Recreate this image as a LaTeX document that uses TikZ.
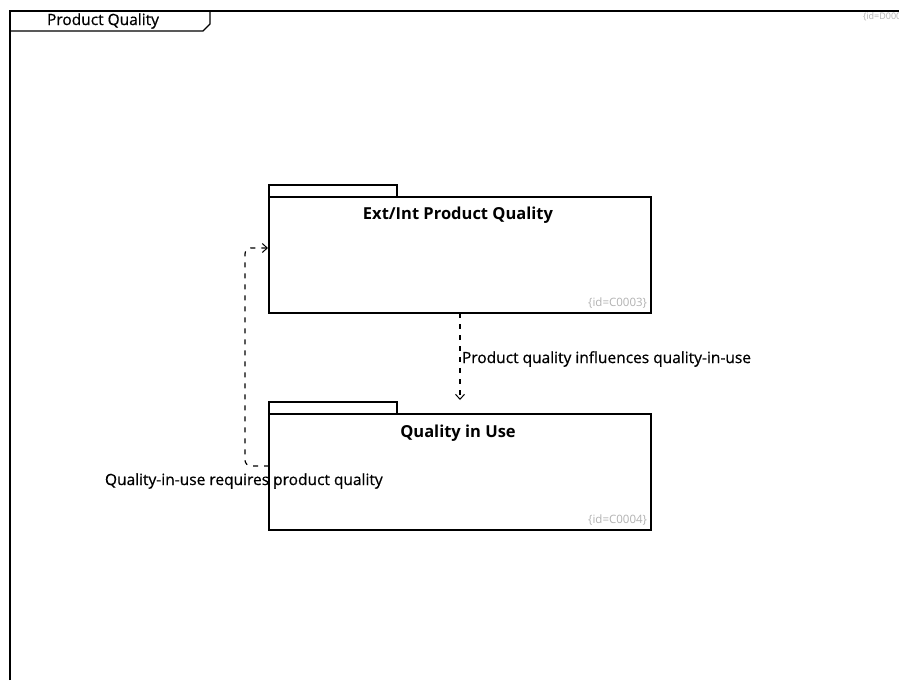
\documentclass[tikz,border=0pt]{standalone}
\usepackage{fontspec}
\setmainfont{Open Sans}
\newfontfamily\labelfont[FakeBold=0.6]{Open Sans}
\usetikzlibrary{arrows.meta}
\begin{document}
\begin{tikzpicture}[x=1pt,y=-1pt,
  every node/.style={inner sep=0pt, outer sep=0pt},
  edge/.style={draw, line width=1.2pt},
  dep/.style={draw, line width=1.2pt, dash pattern=on 5pt off 6pt, -{Straight Barb[length=5pt,width=9pt,line width=1pt]}, rounded corners=6pt},
  pkgtitle/.style={font=\fontsize{16.5}{19}\selectfont\bfseries},
  idtag/.style={font=\fontsize{11.5}{13}\selectfont, text=black!30},
  lbl/.style={font=\labelfont\fontsize{15.5}{18}\selectfont},
]
\useasboundingbox (0,0) rectangle (899,680);
\fill[white] (0,0) rectangle (899,680);

% diagram frame with its name tab
\draw[edge] (10,680) -- (10,11) -- (899,11);
\draw[edge] (10,31) -- (203,31) -- (210,24) -- (210,11);
\node[lbl, anchor=center] (frametitle) at (103,21) {Product Quality};
\node[idtag, font=\fontsize{9}{11}\selectfont, anchor=west] (frameid) at (863,17) {\{id=D0002\}};

% package: Ext/Int Product Quality
\draw[edge] (269,197) -- (269,185) -- (397,185) -- (397,197);
\node[draw, line width=1.2pt, minimum width=382pt, minimum height=116pt, anchor=north west] (pq) at (269,197) {};
\node[pkgtitle] (pqtitle) at (458,215) {Ext/Int Product Quality};
\node[idtag, anchor=south east] (pqid) at (647,308) {\{id=C0003\}};

% package: Quality in Use
\draw[edge] (269,414) -- (269,402) -- (397,402) -- (397,414);
\node[draw, line width=1.2pt, minimum width=382pt, minimum height=116pt, anchor=north west] (qu) at (269,414) {};
\node[pkgtitle] (qutitle) at (458,433) {Quality in Use};
\node[idtag, anchor=south east] (quid) at (647,525) {\{id=C0004\}};

% dependencies
\coordinate (a1) at (460,313);
\coordinate (a2) at (460,400);
\draw[dep] (a1) -- (a2);
\node[lbl, anchor=west] (l1) at (462,359) {Product quality influences quality-in-use};

\coordinate (b1) at (269,466);
\coordinate (b2) at (268,248);
\draw[dep] (b1) -- (245,466) -- (245,248) -- (b2);
\node[lbl, anchor=west] (l2) at (105,481) {Quality-in-use requires product quality};
\end{tikzpicture}
\end{document}
